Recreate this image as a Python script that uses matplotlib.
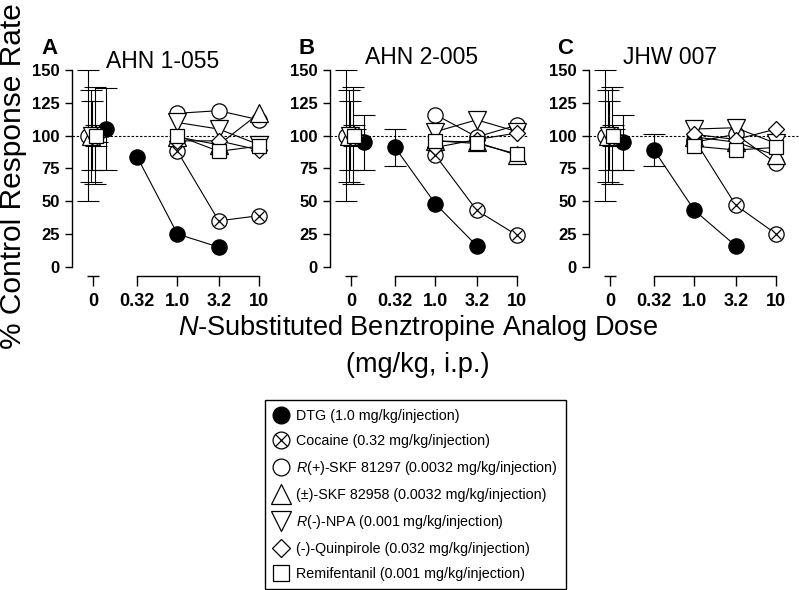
import numpy as np
import matplotlib.pyplot as plt
from matplotlib.lines import Line2D

plt.rcParams['font.family'] = ['Liberation Sans', 'DejaVu Sans']
plt.rcParams['mathtext.fontset'] = 'custom'
plt.rcParams['mathtext.rm'] = 'Liberation Sans'
plt.rcParams['mathtext.it'] = 'Liberation Sans:italic'

# doses (mg/kg) of the benztropine analog, plus the vehicle ("0") point
doses = [0.32, 1.0, 3.2, 10.0]
tick_labels = ['0', '0.32', '1.0', '3.2', '10']
panel_letters = ['A', 'B', 'C']
panel_titles = ['AHN 1-055', 'AHN 2-005', 'JHW 007']

# one row per panel (A, B, C); nan = not tested
dtg = [[84, 25, 15, np.nan], [91, 48, 16, np.nan], [89, 43, 16, np.nan]]
dtg_err = [[0, 0, 0, 0], [14, 0, 0, 0], [12, 0, 0, 0]]
cocaine = [[np.nan, 88, 35, 39], [np.nan, 85, 43, 24], [np.nan, 97, 47, 25]]
skf81297 = [[np.nan, 117, 119, 112], [np.nan, 116, 99, 108], [np.nan, 95, 101, 79]]
skf82958 = [[np.nan, 99, 93, 117], [np.nan, 96, 95, 85], [np.nan, 99, 95, 85]]
npa = [[np.nan, 110, 105, 93], [np.nan, 103, 112, 103], [np.nan, 105, 106, 94]]
quinpirole = [[np.nan, 96, 96, 89], [np.nan, 91, 97, 102], [np.nan, 101, 97, 105]]
remifentanil = [[np.nan, 100, 88, 92], [np.nan, 96, 94, 86], [np.nan, 92, 89, 91]]

# vehicle (control) values: mean and error
dtg_ctrl = [105, 95, 95]
dtg_ctrl_err = [31, 21, 21]
ctrl_mean = [100, 100, 100, 100, 100, 100]
ctrl_err = [37, 50, 35, 26, 5, 8]   # cocaine, skf81297, skf82958, npa, quinpirole, remifentanil

labels = ['DTG (1.0 mg/kg/injection)',
          'Cocaine (0.32 mg/kg/injection)',
          r'$\mathit{R}$(+)-SKF 81297 (0.0032 mg/kg/injection)',
          '(\u00b1)-SKF 82958 (0.0032 mg/kg/injection)',
          r'$\mathit{R}$(-)-NPA (0.001 mg/kg/injection)',
          '(-)-Quinpirole (0.032 mg/kg/injection)',
          'Remifentanil (0.001 mg/kg/injection)']

W, H = 799, 590
fig = plt.figure(figsize=(W / 100, H / 100), dpi=100)

xpos = np.log10(doses)
x_zero = -1.03
ms = 11
styles = [  # marker, size, face
    ('o', ms, 'black'),
    ('o', ms, 'white'),
    ('o', ms, 'white'),
    ('^', ms * 1.2, 'white'),
    ('v', ms * 1.2, 'white'),
    ('D', ms * 0.78, 'white'),
    ('s', ms * 0.95, 'white'),
]
ctrl_off = [0.16, 0.02, -0.06, -0.03, -0.01, 0.05, 0.03]

lefts = [72, 330, 589]
letter_x = [49, 307, 565]
title_x = [163, 422, 670]
title_y = [61, 58, 57]

for p in range(3):
    ax = fig.add_axes([lefts[p] / W, 1 - 276 / H, 197 / W, 206 / H])
    series = [dtg[p], cocaine[p], skf81297[p], skf82958[p], npa[p],
              quinpirole[p], remifentanil[p]]
    cm = [dtg_ctrl[p]] + ctrl_mean
    ce = [dtg_ctrl_err[p]] + ctrl_err

    ax.axhline(100, color='black', lw=0.8, ls=(0, (2.2, 1.6)), zorder=1,
               xmax=1.0 if p < 2 else 1.06, clip_on=False)

    # vehicle points with error bars
    for i in range(7):
        ax.errorbar(x_zero + ctrl_off[i], cm[i], yerr=ce[i], fmt='none',
                    ecolor='black', elinewidth=0.8, capsize=8, capthick=0.8,
                    zorder=2, clip_on=False)
    for i in range(7):
        mk, s, fc = styles[i]
        ax.plot(x_zero + ctrl_off[i], cm[i], marker=mk, ms=s, mfc=fc, mec='black',
                mew=0.9, ls='none', zorder=3 + i * 0.1, clip_on=False)
        if i == 1:
            ax.plot(x_zero + ctrl_off[i], cm[i], marker='x', ms=s * 0.7, mec='black',
                    mew=0.9, ls='none', zorder=3 + i * 0.1 + 0.05)

    # dose-effect curves
    de = np.array(dtg_err[p], dtype=float)
    has_err = de > 0
    if has_err.any():
        ax.errorbar(xpos[has_err], np.array(dtg[p], dtype=float)[has_err],
                    yerr=de[has_err], fmt='none', ecolor='black',
                    elinewidth=0.8, capsize=8, capthick=0.8, zorder=2)
    for i in range(6, -1, -1):
        mk, s, fc = styles[i]
        y = np.array(series[i], dtype=float)
        ok = ~np.isnan(y)
        ax.plot(xpos[ok], y[ok], color='black', lw=0.8, marker=mk, ms=s, mfc=fc,
                mec='black', mew=0.9, zorder=3 + i * 0.1, clip_on=False)
        if i == 1:
            ax.plot(xpos[ok], y[ok], ls='none', marker='x', ms=s * 0.7, mec='black',
                    mew=0.9, zorder=3 + i * 0.1 + 0.05)

    ax.set_xlim(-1.29, 1.12)
    ax.set_ylim(-7, 150)
    for side in ['top', 'right']:
        ax.spines[side].set_visible(False)
    ax.spines['left'].set_bounds(0, 150)
    ax.spines['bottom'].set_bounds(xpos[0], xpos[-1])
    ax.spines['left'].set_linewidth(1)
    ax.spines['bottom'].set_linewidth(1)
    ax.plot([x_zero - 0.075, x_zero + 0.075], [0, 0], color='black', lw=1,
            transform=ax.get_xaxis_transform(), clip_on=False, solid_capstyle='butt')

    ax.set_yticks([0, 25, 50, 75, 100, 125, 150])
    ax.set_xticks([x_zero] + list(xpos))
    ax.set_xticklabels(tick_labels)
    ax.tick_params(axis='y', length=5, width=1, labelsize=12, pad=4)
    ax.tick_params(axis='x', length=7, width=1, labelsize=13, pad=5)
    for t in ax.get_xticklabels() + ax.get_yticklabels():
        t.set_fontweight('bold')

    fig.text(letter_x[p] / W, 1 - 48 / H, panel_letters[p], fontsize=16,
             fontweight='bold', ha='center', va='center')
    fig.text(title_x[p] / W, 1 - title_y[p] / H, panel_titles[p], fontsize=16.5,
             ha='center', va='center')

fig.text(13 / W, 1 - 176 / H, '% Control Response Rate', rotation=90,
         fontsize=21.5, ha='center', va='center')
fig.text(418 / W, 1 - 328 / H, r'$\mathit{N}$-Substituted Benztropine Analog Dose',
         fontsize=19.5, ha='center', va='center')
fig.text(418 / W, 1 - 365 / H, '(mg/kg, i.p.)', fontsize=19.5, ha='center', va='center')

# legend
handles = []
for i in range(7):
    mk, s, fc = styles[i]
    h = Line2D([], [], ls='none', marker=mk, ms=s * 1.1, mfc=fc, mec='black', mew=0.9)
    if i == 1:
        hx = Line2D([], [], ls='none', marker='x', ms=s * 1.1 * 0.7, mec='black', mew=0.9)
        h = (h, hx)
    handles.append(h)
leg = fig.legend(handles, labels, loc='upper left',
                 bbox_to_anchor=(265 / W, 1 - 400 / H), borderaxespad=0,
                 frameon=True, fancybox=False, edgecolor='black', framealpha=1,
                 fontsize=10.3, labelspacing=0.77, handlelength=1.0,
                 handletextpad=0.6, borderpad=0.6)
leg.get_frame().set_linewidth(1)

fig.savefig('out.png', dpi=100)
